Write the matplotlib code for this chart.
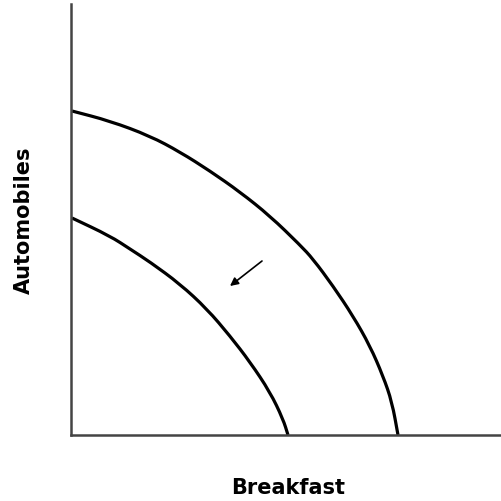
import matplotlib
matplotlib.use("Agg")
import matplotlib.pyplot as plt
from matplotlib.path import Path
from matplotlib.patches import PathPatch

# curves (breakfast, automobiles)
outer_x = [1, 39, 79, 109, 139, 169, 199, 229, 242, 262, 282, 299, 312, 321, 327]
outer_y = [324, 314, 299, 283, 264, 243, 219, 190, 176, 149, 119, 89, 59, 33, 0]
inner_x = [1, 39, 59, 79, 109, 136, 159, 179, 199, 212, 217]
inner_y = [217, 199, 186, 173, 151, 126, 99, 73, 43, 16, 0]

# shift arrow: tail -> head
arrow_tail = (191, 174)
arrow_head = (159, 149)

x_label = "Breakfast"
y_label = "Automobiles"


def smooth_path(xs, ys):
    # quadratic bezier through midpoints, read points act as control points
    pts = list(zip(xs, ys))
    verts = [pts[0]]
    codes = [Path.MOVETO]
    mid = lambda a, b: ((a[0] + b[0]) / 2, (a[1] + b[1]) / 2)
    verts.append(mid(pts[0], pts[1]))
    codes.append(Path.LINETO)
    for i in range(1, len(pts) - 1):
        verts += [pts[i], mid(pts[i], pts[i + 1])]
        codes += [Path.CURVE3, Path.CURVE3]
    verts.append(pts[-1])
    codes.append(Path.LINETO)
    return Path(verts, codes)


fig = plt.figure(figsize=(5.01, 5.02), dpi=100)
ax = fig.add_axes([71 / 501, 66 / 502, 430 / 501, 431 / 502])
ax.set_xlim(0, 430)
ax.set_ylim(0, 431)

for xs, ys in [(outer_x, outer_y), (inner_x, inner_y)]:
    ax.add_patch(PathPatch(smooth_path(xs, ys), fill=False,
                           edgecolor="black", lw=2.3, capstyle="butt"))

ax.annotate("", xy=arrow_head, xytext=arrow_tail,
            arrowprops=dict(arrowstyle="-|>", color="black", lw=1.2,
                            mutation_scale=12, shrinkA=0, shrinkB=0))

for side in ["top", "right"]:
    ax.spines[side].set_visible(False)
for side in ["left", "bottom"]:
    ax.spines[side].set_color("#444444")
    ax.spines[side].set_linewidth(1.8)
ax.set_xticks([])
ax.set_yticks([])

fig.text(288 / 501, 1 - 488 / 502, x_label, ha="center", va="center",
         fontsize=15, fontweight="bold")
fig.text(24 / 501, 1 - 220 / 502, y_label, ha="center", va="center",
         fontsize=15, fontweight="bold", rotation=90)

fig.savefig("out.png", dpi=100)
